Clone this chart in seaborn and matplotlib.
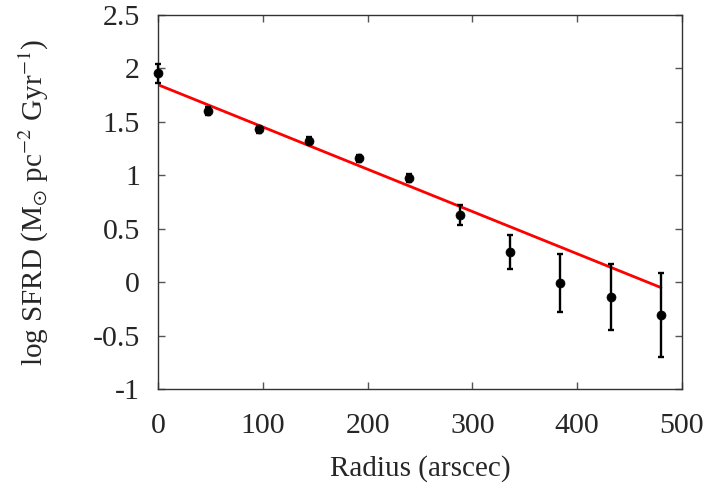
import matplotlib
matplotlib.use("Agg")
import matplotlib.pyplot as plt
import seaborn as sns
import pandas as pd

radius = [0, 48, 96, 144, 192, 240, 288, 336, 384, 432, 480]
log_sfrd = [1.955, 1.60, 1.43, 1.325, 1.16, 0.975, 0.63, 0.285, -0.005, -0.14, -0.305]
log_sfrd_err = [0.09, 0.04, 0.035, 0.035, 0.035, 0.035, 0.09, 0.16, 0.27, 0.31, 0.39]
fit_radius = [0, 480]
fit_log_sfrd = [1.848, -0.05]

x_ticks = [0, 100, 200, 300, 400, 500]
y_ticks = [-1, -0.5, 0, 0.5, 1, 1.5, 2, 2.5]
y_tick_labels = ["-1", "-0.5", "0", "0.5", "1", "1.5", "2", "2.5"]

sns.set_theme(style="ticks")
plt.rcParams["font.family"] = ["Liberation Serif", "DejaVu Serif"]
plt.rcParams["mathtext.fontset"] = "stix"

df = pd.DataFrame({"radius": radius, "log_sfrd": log_sfrd, "err": log_sfrd_err})
fit_df = pd.DataFrame({"radius": fit_radius, "log_sfrd": fit_log_sfrd})

fig = plt.figure(figsize=(7.1, 4.84), dpi=100)
ax = fig.add_axes([0.2225, 0.196, 0.738, 0.773])

sns.lineplot(data=fit_df, x="radius", y="log_sfrd", color="#ff0000", linewidth=2.0, ax=ax, zorder=2)
eb = ax.errorbar(df["radius"], df["log_sfrd"], yerr=df["err"], fmt="none", ecolor="black",
                 elinewidth=1.7, capsize=2.5, capthick=1.7, zorder=3)
for artist in eb.lines[1] + eb.lines[2]:
    artist.set_clip_on(False)
sns.scatterplot(data=df, x="radius", y="log_sfrd", color="black", s=42, edgecolor="black",
                linewidth=0.5, ax=ax, zorder=4, clip_on=False)

ax.set_xlim(0, 500)
ax.set_ylim(-1, 2.5)
ax.set_xticks(x_ticks)
ax.set_yticks(y_ticks)
ax.set_yticklabels(y_tick_labels)
ax.tick_params(direction="in", length=5, width=1, top=True, right=True, labelsize=21.5,
               color="#555555")
ax.tick_params(axis="x", pad=17)
ax.tick_params(axis="y", pad=13)
for side in ax.spines.values():
    side.set_linewidth(1.0)
    side.set_color("#333333")

ax.set_xlabel("Radius (arscec)", fontsize=21, labelpad=12)
ax.set_ylabel(r"log SFRD (M$_{\odot}$ pc$^{-2}$ Gyr$^{-1}$)", fontsize=21, labelpad=30)

fig.savefig("out.png", dpi=100)
